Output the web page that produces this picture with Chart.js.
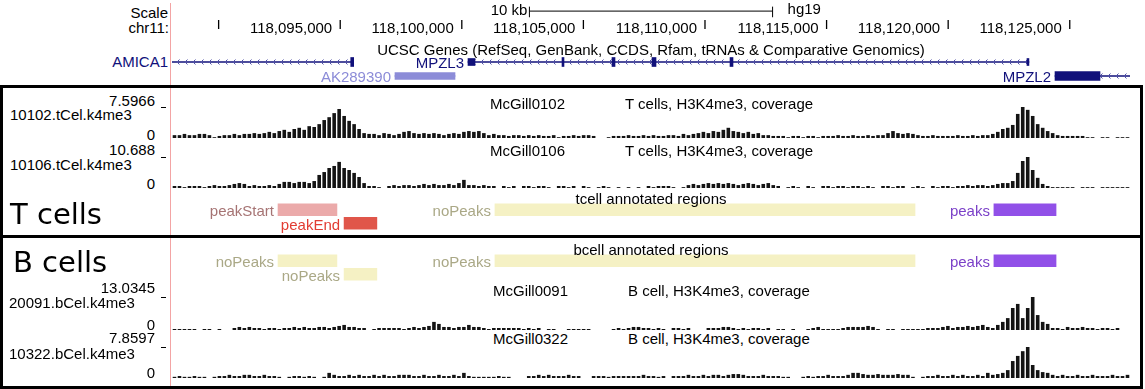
<!DOCTYPE html>
<html>
<head>
<meta charset="utf-8">
<script src="https://cdn.jsdelivr.net/npm/chart.js@4.4.0/dist/chart.umd.min.js"></script>
<style>
  html, body { margin: 0; padding: 0; background: #fff; }
  #page { position: relative; width: 1145px; height: 389px; overflow: hidden;
          font-family: "Liberation Sans", Arial, sans-serif; font-size: 15px; color: #000; }
  #page canvas { position: absolute; }
  .t { position: absolute; white-space: pre; }
  .rule { position: absolute; background: #000; }
  .box { position: absolute; border: 3px solid #000; box-sizing: border-box; }
</style>
</head>
<body>
<div id="page">
  <div class="rule" style="left:170px;top:3px;width:1px;height:386px;background:#f3a4a4;"></div>
  <div class="box" style="left:0;top:85px;width:1143px;height:304px;"></div>
  <div class="rule" style="left:0;top:235px;width:1143px;height:3px;"></div>
</div>
<script>
// window shown: chr11:118,088,350-118,127,210 (hg19)
const VIEW_START = 118088350;
const VIEW_END = 118127210;

const rulerTicks = [118090000, 118095000, 118100000, 118105000, 118110000, 118115000, 118120000, 118125000];
const rulerLabels = ['', '118,095,000', '118,100,000', '118,105,000', '118,110,000', '118,115,000', '118,120,000', '118,125,000'];
const scaleBar = [118102780, 118112780];

// UCSC genes
const geneNames = ['AMICA1', 'MPZL3', 'AK289390', 'MPZL2'];
const geneRows = [0, 0, 1, 1];
const geneStarts = [118080000, 118100357, 118097395, 118124168];
const geneEnds = [118095720, 118123110, 118099830, 118130000];
// coding exons (tall) and untranslated/non-coding blocks (short)
const cdsGene = [0, 1, 1, 1, 1, 3];
const cdsStarts = [118095600, 118104170, 118106198, 118107821, 118110985, 118124168];
const cdsEnds = [118095720, 118104250, 118106320, 118107983, 118111106, 118125993];
const utrGene = [1, 1, 2];
const utrStarts = [118100357, 118123030, 118097395];
const utrEnds = [118100641, 118123110, 118099830];

// annotated regions
const tRegionNames = ['peakStart', 'peakEnd', 'noPeaks', 'peaks'];
const bRegionNames = ['noPeaks', 'noPeaks', 'noPeaks', 'peaks'];
const regionRows = [0, 1, 0, 0];
const regionStarts = [118092650, 118095330, 118101450, 118121690];
const regionEnds = [118095040, 118096660, 118118490, 118124210];

// coverage tracks
const trackNames = ['10102.tCel.k4me3', '10106.tCel.k4me3', '20091.bCel.k4me3', '10322.bCel.k4me3'];
const trackSamples = ['McGill0102', 'McGill0106', 'McGill0091', 'McGill0322'];
const trackDescs = ['T cells, H3K4me3, coverage', 'T cells, H3K4me3, coverage', 'B cell, H3K4me3, coverage', 'B cell, H3K4me3, coverage'];
const trackMax = [7.5966, 10.688, 13.0345, 7.8597];
const trackMaxLabels = ['7.5966', '10.688', '13.0345', '7.8597'];

const cov10102 = [
  0.7,0.7,1.0,0.7,0.7,1.0,1.0,0.7,0.2,0.5, 0.7,0.7,1.0,0.7,1.0,1.0,1.2,1.0,1.2,1.5,
  1.2,1.7,2.0,1.5,2.2,2.5,2.0,2.9,2.7,3.4, 4.4,5.1,6.1,7.1,5.4,4.2,3.4,2.2,1.2,1.0,
  1.0,0.7,1.2,1.0,0.7,1.0,1.5,1.7,1.2,1.0, 1.2,1.0,1.2,1.0,0.7,1.0,1.2,1.0,1.5,1.7,
  1.5,1.7,1.2,0.7,1.0,0.7,0.7,0.5,0.7,0.7, 0.5,0.7,0.5,0.7,0.5,0.5,0.7,0.2,0.5,0.5,
  0.7,0.5,0.7,0.7,0.5,0,0,0.2,0.5,0.5, 0.5,0.7,0.5,0.5,0.7,0.5,0.7,0.5,0.5,0.7,
  0.7,0.5,1.0,0.7,1.0,1.2,1.5,1.2,1.7,1.5, 2.0,2.5,1.7,1.5,1.2,1.5,1.0,1.2,0.7,0.7,
  0.5,0.5,0.5,0.2,0.5,0.5,0.2,0.5,0.5,0.2, 0.5,0.5,0.5,0.7,0.5,0.5,0.7,0.5,0.5,0.7,
  0.5,0.7,0.7,1.2,1.7,1.2,1.0,1.2,1.0,0.7, 0.5,0.5,0.7,0.5,0.5,0.5,0.5,0.7,0.5,0.5,
  0.7,0.5,0.7,0.7,1.0,1.5,2.2,2.5,3.2,5.9, 7.6,6.9,5.4,3.4,2.5,1.7,1.2,0.7,0.5,0.5,
  0.5,0.5,0.5,0.2,0.2,0,0.2,0.2,0,0.2, 0.2,0.2
];
const cov10106 = [
  0.7,0.7,0.3,0.7,0.7,0.7,0.3,0.7,1.0,0.7, 0.7,1.0,1.4,1.7,1.4,0.7,1.0,0.7,0.7,1.0,
  0.7,1.4,2.1,2.1,1.7,2.1,2.1,1.7,2.4,4.5, 5.5,6.9,7.6,9.0,6.9,6.2,5.2,3.8,1.7,0.7,
  0.7,0.3,0,0.7,1.0,0.7,1.0,1.0,0.7,1.0, 1.4,1.0,1.4,1.0,1.0,1.4,1.0,1.7,2.8,1.0,
  1.0,0.7,1.0,0.7,0.7,0,0.7,0.3,0.7,0, 0.7,0.7,0.3,0.7,0.7,0.3,0,0.7,0.7,0.3,
  0.7,0,0.7,0.3,0,0.3,0.7,0.3,0,0.3, 0,0.3,0,0.3,0,0.7,0.3,0.7,0.7,0.7,
  0.3,0,0.3,1.0,1.4,1.0,1.4,1.7,1.4,1.7, 1.4,1.7,1.4,1.0,1.4,1.7,1.4,1.0,1.4,1.7,
  1.0,0.7,0,0.3,0.7,0.3,0,0.7,0.3,0, 0.7,0.7,0.3,0.7,0.7,0.3,0.7,0.7,0.3,0.7,
  0.3,0,0.7,0.7,0.3,0.7,0.7,0,0.3,0.7, 0.3,0,0.7,0.3,0.7,0.7,0.3,0.7,0.7,1.0,
  0.7,1.0,1.0,0.7,1.0,1.4,1.7,1.7,2.4,5.2, 9.3,10.688,6.2,3.5,1.4,0.7,0.3,0.3,0.3,0.3,
  0.3,0,0.3,0.3,0.3,0,0.3,0.3,0.3,0.3, 0.3,0.3
];
const cov20091 = [
  0.4,0.4,0.4,0.4,0.4,0,0.4,0.4,0,0.4, 0,0,0.8,1.2,0.8,1.2,0.8,0.8,0.4,0.8,
  0.8,0.4,0.8,0.8,1.2,0.8,1.2,0.8,0.8,1.2, 1.2,0.8,1.2,1.6,2.0,1.2,1.2,0.8,0.8,0,
  0.4,0.8,0.8,0.8,0.8,0.8,0.4,0.8,1.2,0.8, 1.2,1.6,3.2,2.4,1.2,1.2,0.8,1.2,1.2,2.0,
  1.2,1.2,0.8,0.4,0.8,0.8,0.8,0.8,0.8,0.8, 0.4,0.8,0.4,0.8,0,0.4,0.4,0,0,0.4,
  0.4,0.4,0.4,0.4,0,0,0,0,0.4,0.8, 0.4,0.8,1.2,1.2,0.8,0.8,0.4,0.8,0.4,0,
  0.8,0.8,0.4,0.8,0,0,0,0.8,0.8,0.8, 1.2,1.2,0.8,0.4,0.8,0.4,0.8,0.8,0.4,0.8,
  0,0.4,0.4,0,0.4,0,0,0.4,0.8,1.2, 0.4,0.4,0.4,0.4,0.8,1.2,1.2,1.2,1.2,1.6,
  1.2,0.4,0,0.4,0.4,0,0.4,0.4,0.4,0.4, 0.4,0.8,0.8,0.8,1.2,1.6,0.8,1.2,1.2,1.6,
  1.2,1.6,2.0,1.2,0.8,2.0,3.2,4.7,8.7,10.3, 4.7,8.7,13.03,5.9,3.2,2.4,0.8,0.8,0.4,1.2,
  0.8,0.8,1.2,0.8,0.8,0.4,0.8,0.8,0.4,0.8, 0,0
];
const cov10322 = [
  0.3,0.5,0.3,0.3,0.5,0.3,0.3,0,0.3,0.5, 0.5,0.8,0.5,0.5,0.8,0.8,0.5,0.5,0.8,0.5,
  0.5,0.3,0,0.3,0.5,0.5,0.3,0.5,0.3,0, 0.3,1.3,0.8,0.5,0.5,0.8,0.5,0.8,0.5,0.5,
  0.8,0.5,0.8,0.5,0.5,0.8,0.8,0.8,0.5,0.5, 0.8,0.5,0.5,0.8,0.5,0.5,0.8,0.5,1.3,0.5,
  0.3,0.3,0.3,0.3,0.3,0.5,0.3,0.3,0,0, 0,0.5,0.5,0.8,0.5,0.8,0.5,0.5,0.5,0.8,
  0.5,0.5,0,0,0.5,0.5,0.5,0.3,0.5,0.5, 0.5,0.5,0.5,0.5,0.8,0.5,0.5,0.3,0.5,0,
  0.5,0.5,0.5,0.8,0.5,0.5,0.8,0.5,0.8,0.8, 0.5,0.8,1.0,1.0,0.8,0.5,0.5,0.5,0.8,0.5,
  0.5,0.5,0.3,0.3,0,0,0.3,0.5,0.3,0.5, 0.5,0.8,0.5,0.5,0.5,0.8,1.3,1.3,1.0,0.8,
  0.8,1.0,0.8,0.8,0.8,1.0,0.8,0.8,0.3,0, 0.3,0.5,0.5,0.8,0.5,0.5,0.8,0.5,0.8,0.5,
  0.5,0.8,0.5,1.3,0.8,1.0,1.3,2.0,4.3,5.6, 6.8,7.86,3.3,2.0,1.5,1.3,0.8,0.5,0.8,0.5,
  0.5,0.8,0.5,0.5,0.8,0.5,0.5,0.5,0.8,0.5, 0.5,0.8
];
const coverage = [cov10102, cov10106, cov20091, cov10322];

// ---- layout ----
const PAGE_W = 1145;
const DATA_LEFT = 172, DATA_W = 958;
const FONT = '"Liberation Sans", Arial, sans-serif';
const NAVY = '#10107a';
const geneColors = [NAVY, NAVY, '#8c8cd8', NAVY];
const regionFill = { peakStart: '#ebaaaa', peakEnd: '#e0564a', noPeaks: '#f5f1c4', peaks: '#9150e8' };
const regionText = { peakStart: '#a67474', peakEnd: '#e23c32', noPeaks: '#aaa886', peaks: '#7b40c8' };

Chart.defaults.font.family = FONT;
const base = {
  animation: false, responsive: false, events: [],
  layout: { padding: 0 },
  plugins: { legend: { display: false }, tooltip: { enabled: false } }
};
const xGenome = { type: 'linear', display: false, min: VIEW_START, max: VIEW_END };

const page = document.getElementById('page');

function addText(str, x, baseline, align, o) {
  o = o || {};
  const size = o.size || 15;
  const el = document.createElement('div');
  el.className = 't';
  el.textContent = str;
  el.style.fontSize = size + 'px';
  el.style.lineHeight = size + 'px';
  if (o.family) el.style.fontFamily = o.family;
  if (o.color) el.style.color = o.color;
  el.style.top = (baseline - size * 0.847) + 'px';
  if (align === 'right') el.style.right = (PAGE_W - x) + 'px';
  else if (align === 'center') { el.style.left = x + 'px'; el.style.transform = 'translateX(-50%)'; }
  else el.style.left = x + 'px';
  page.appendChild(el);
}

function addCanvas(left, top, w, h) {
  const c = document.createElement('canvas');
  c.width = w; c.height = h;
  c.style.left = left + 'px'; c.style.top = top + 'px';
  page.appendChild(c);
  return c;
}

// ---- ruler + scale bar (y runs in pixel rows, top down) ----
const ruler = new Chart(addCanvas(DATA_LEFT, 0, DATA_W, 38), {
  type: 'scatter',
  data: {
    datasets: [
      { type: 'line', data: scaleBar.map(v => ({ x: v, y: 7 })), borderColor: '#000', borderWidth: 1, pointRadius: 0 },
      { data: scaleBar.map(v => ({ x: v, y: 8 })), pointStyle: 'line', pointRotation: 90, pointRadius: 5.5,
        pointBorderColor: '#000', pointBorderWidth: 1 },
      { data: rulerTicks.map(v => ({ x: v, y: 27.5 })), pointStyle: 'line', pointRotation: 90, pointRadius: 4.5,
        pointBorderColor: '#000', pointBorderWidth: 1.3 }
    ]
  },
  options: { ...base, scales: { x: xGenome, y: { display: false, min: 0, max: 38, reverse: true } } }
});
const rx = v => DATA_LEFT + ruler.scales.x.getPixelForValue(v);
addText('Scale', 168, 18, 'right');
addText('chr11:', 169, 33, 'right');
addText('10 kb', rx(scaleBar[0]) - 2, 15, 'right');
addText('hg19', rx(scaleBar[1]) + 15, 14, 'left');
rulerTicks.forEach((v, i) => {
  if (rulerLabels[i]) addText(rulerLabels[i], rx(v) - 8, 33, 'right');
});

// ---- gene track ----
const chevrons = {
  id: 'chevrons',
  afterDatasetDraw(chart, args) {
    if (args.index !== 0) return;
    const ctx = chart.ctx, area = chart.chartArea;
    ctx.save();
    ctx.strokeStyle = '#5050a8';
    ctx.lineWidth = 1;
    args.meta.data.forEach(el => {
      const a = Math.max(Math.min(el.x, el.base), area.left);
      const b = Math.min(Math.max(el.x, el.base), area.right);
      const y = el.y;
      ctx.beginPath();
      for (let px = a + 5; px < b - 3; px += 8) {
        ctx.moveTo(px + 2.5, y - 2.5); ctx.lineTo(px, y); ctx.lineTo(px + 2.5, y + 2.5);
      }
      ctx.stroke();
    });
    ctx.restore();
  }
};
const GENE_TOP = 55;
const blocks = (genes, starts, ends) => starts.map((s, i) => ({ y: String(geneRows[genes[i]]), x: [s, ends[i]] }));
const geneChart = new Chart(addCanvas(DATA_LEFT, GENE_TOP, DATA_W, 28), {
  type: 'bar',
  data: {
    labels: ['0', '1'],
    datasets: [
      { data: geneNames.map((n, i) => ({ y: String(geneRows[i]), x: [geneStarts[i], geneEnds[i]] })),
        backgroundColor: geneColors, barThickness: 1, grouped: false, order: 3 },
      { data: blocks(utrGene, utrStarts, utrEnds), backgroundColor: utrGene.map(g => geneColors[g]),
        barThickness: 7, grouped: false, order: 2 },
      { data: blocks(cdsGene, cdsStarts, cdsEnds), backgroundColor: cdsGene.map(g => geneColors[g]),
        barThickness: 9, grouped: false, order: 1 }
    ]
  },
  options: { ...base, indexAxis: 'y', scales: { x: xGenome, y: { display: false } } },
  plugins: [chevrons]
});
addText('UCSC Genes (RefSeq, GenBank, CCDS, Rfam, tRNAs & Comparative Genomics)', DATA_LEFT + DATA_W / 2, 55, 'center');
geneNames.forEach((n, i) => {
  const px = geneChart.scales.x.getPixelForValue(geneStarts[i]);
  const rowY = GENE_TOP + geneChart.scales.y.getPixelForValue(geneRows[i]);
  if (px < 0) addText(n, DATA_LEFT - 4, rowY + 5, 'right', { color: NAVY });
  else addText(n, DATA_LEFT + px - 4, rowY + 6, 'right', { color: geneColors[i] });
});

// ---- annotated regions ----
function regionTrack(top, names, title, titleBaseline) {
  const chart = new Chart(addCanvas(DATA_LEFT, top, DATA_W, 27), {
    type: 'bar',
    data: {
      labels: ['0', '1'],
      datasets: [{
        data: regionStarts.map((s, i) => ({ y: String(regionRows[i]), x: [s, regionEnds[i]] })),
        backgroundColor: names.map(n => regionFill[n]), barThickness: 12, grouped: false
      }]
    },
    options: { ...base, indexAxis: 'y', scales: { x: xGenome, y: { display: false } } }
  });
  addText(title, DATA_LEFT + DATA_W / 2, titleBaseline, 'center');
  names.forEach((n, i) => {
    const px = DATA_LEFT + chart.scales.x.getPixelForValue(regionStarts[i]) - 4;
    const py = top + chart.scales.y.getPixelForValue(regionRows[i]) + 6;
    addText(n, px, py, 'right', { color: regionText[n] });
  });
}
regionTrack(203, tRegionNames, 'tcell annotated regions', 204);
regionTrack(254, bRegionNames, 'bcell annotated regions', 255);

// ---- coverage tracks ----
const BIN_COUNT = cov10102.length;
const binStarts = Array.from({ length: BIN_COUNT }, (_, i) => Math.round(VIEW_START + i * (VIEW_END - VIEW_START) / BIN_COUNT));
const trackTop = [107, 157, 297, 347];
const trackH = [31, 31, 33, 31];
const maxBase = [106, 155, 293, 343];
const nameBase = [120, 170, 308, 359];
const zeroBase = [140, 189, 330, 378];
const centerBase = [109, 156, 296, 344];
const centerLeft = [[490, 625], [490, 625], [493, 628], [493, 628]];

trackNames.forEach((name, k) => {
  new Chart(addCanvas(DATA_LEFT, trackTop[k], DATA_W, trackH[k]), {
    type: 'bar',
    data: {
      labels: binStarts,
      datasets: [{ data: coverage[k], backgroundColor: '#141414', barPercentage: 0.72, categoryPercentage: 1 }]
    },
    options: { ...base, scales: { x: { display: false }, y: { display: false, min: 0, max: trackMax[k] } } }
  });
  addText(trackMaxLabels[k], 155, maxBase[k], 'right');
  const tick = document.createElement('div');
  tick.className = 'rule';
  tick.style.cssText = 'left:161px;top:' + trackTop[k] + 'px;width:5px;height:1px;';
  page.appendChild(tick);
  addText(name, k < 2 ? 10 : 9, nameBase[k], 'left');
  addText('0', 155, zeroBase[k], 'right');
  addText(trackSamples[k], centerLeft[k][0], centerBase[k], 'left');
  addText(trackDescs[k], centerLeft[k][1], centerBase[k], 'left');
});

addText('T cells', 10, 225, 'left', { size: 29, family: '"DejaVu Sans", sans-serif' });
addText('B cells', 13, 273, 'left', { size: 29, family: '"DejaVu Sans", sans-serif' });
</script>
</body>
</html>
